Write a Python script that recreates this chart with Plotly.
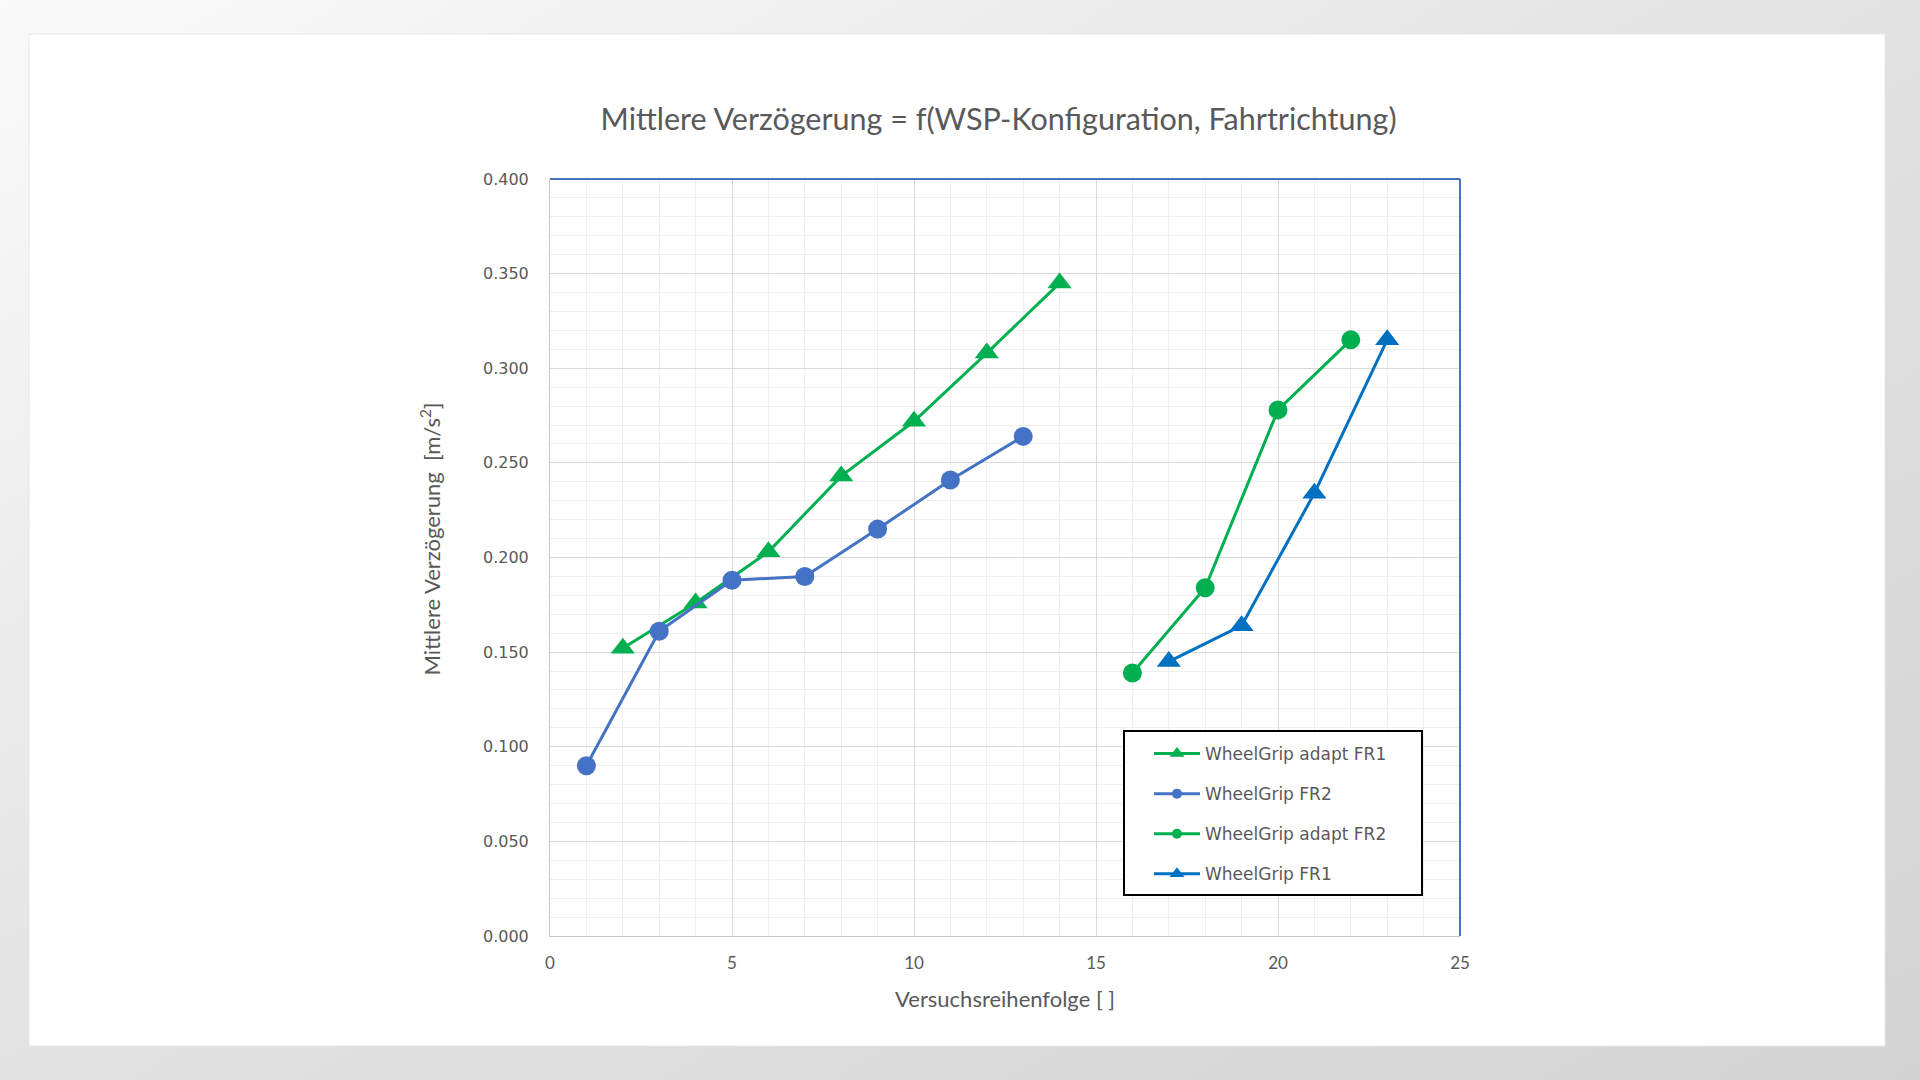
import base64
import plotly.graph_objects as go

# ---------------- data ----------------
x_adapt_fr1 = [2, 4, 6, 8, 10, 12, 14]
y_adapt_fr1 = [0.152, 0.176, 0.203, 0.243, 0.272, 0.308, 0.345]

x_fr2 = [1, 3, 5, 7, 9, 11, 13]
y_fr2 = [0.090, 0.161, 0.188, 0.190, 0.215, 0.241, 0.264]

x_adapt_fr2 = [16, 18, 20, 22]
y_adapt_fr2 = [0.139, 0.184, 0.278, 0.315]

x_fr1 = [17, 19, 21, 23]
y_fr1 = [0.145, 0.164, 0.234, 0.315]

series_names = ["WheelGrip adapt FR1", "WheelGrip FR2", "WheelGrip adapt FR2", "WheelGrip FR1"]
y_tick_vals = [0.0, 0.05, 0.10, 0.15, 0.20, 0.25, 0.30, 0.35, 0.40]
y_tick_text = ["0.000", "0.050", "0.100", "0.150", "0.200", "0.250", "0.300", "0.350", "0.400"]
x_tick_vals = [0, 5, 10, 15, 20, 25]

title_text = "Mittlere Verzögerung = f(WSP-Konfiguration, Fahrtrichtung)"
x_title = "Versuchsreihenfolge [ ]"
y_title = "Mittlere Verzögerung  [m/s<sup>2</sup>]"

# ---------------- styles ----------------
GREEN = "#00B050"
BLUE2 = "#4472C4"
BLUE1 = "#0070C0"
TXT = "#595959"

W, H = 1920, 1080
L, R, T, B = 550, 460, 179, 144
pw, ph = W - L - R, H - T - B

svg = f'''<svg xmlns="http://www.w3.org/2000/svg" width="{W}" height="{H}" viewBox="0 0 {W} {H}">
<defs><linearGradient id="g" x1="0" y1="0" x2="1" y2="1">
<stop offset="0" stop-color="#fafafa"/><stop offset="0.5" stop-color="#e2e2e2"/><stop offset="1" stop-color="#d3d3d3"/>
</linearGradient></defs>
<rect x="0" y="0" width="{W}" height="{H}" fill="url(#g)"/>
<rect x="29" y="34" width="1856" height="1012" fill="#ffffff" stroke="#e8e8e8" stroke-width="1"/>
</svg>'''
src = "data:image/svg+xml;base64," + base64.b64encode(svg.encode()).decode()

fig = go.Figure()

def add(xs, ys, name, color, symbol, size):
    fig.add_trace(go.Scatter(
        x=xs, y=ys, mode="lines+markers", name=name, showlegend=False,
        line=dict(color=color, width=3),
        marker=dict(color=color, symbol=symbol, size=size),
    ))

add(x_adapt_fr1, y_adapt_fr1, series_names[0], GREEN, "triangle-up", 21)
add(x_fr2, y_fr2, series_names[1], BLUE2, "circle", 19)
add(x_adapt_fr2, y_adapt_fr2, series_names[2], GREEN, "circle", 19)
add(x_fr1, y_fr1, series_names[3], BLUE1, "triangle-up", 21)

# legend-only entries with small markers
legend_styles = [(GREEN, "triangle-up", 13), (BLUE2, "circle", 10), (GREEN, "circle", 10), (BLUE1, "triangle-up", 13)]
for i, (nm, (c, s, sz)) in enumerate(zip(series_names, legend_styles)):
    fig.add_trace(go.Scatter(
        x=[None], y=[None], mode="lines+markers", name=nm, legendgroup=f"g{i}",
        line=dict(color=c, width=3), marker=dict(color=c, symbol=s, size=sz),
    ))

# legend box (pixels -> paper)
bx0, bx1, by0, by1 = 1124, 1422, 731, 895
def px(v):
    return (v - L) / pw
def py(v):
    return (H - B - v) / ph

fig.update_layout(
    width=W, height=H,
    margin=dict(l=L, r=R, t=T, b=B, autoexpand=False),
    paper_bgcolor="#ffffff",
    plot_bgcolor="#ffffff",
    images=[dict(source=src, xref="paper", yref="paper",
                 x=-L / pw, y=1 + T / ph, sizex=W / pw, sizey=H / ph,
                 xanchor="left", yanchor="top", sizing="stretch", layer="below")],
    title=dict(text=title_text, x=998.6 / W, xref="container", xanchor="center",
               y=1 - 119 / H, yref="container", yanchor="middle",
               font=dict(family="Lato", size=30.5, color=TXT)),
    xaxis=dict(
        range=[0, 25], tickvals=x_tick_vals, ticks="",
        showgrid=True, gridcolor="#d9d9d9", gridwidth=1,
        minor=dict(dtick=1, showgrid=True, gridcolor="#efefef", gridwidth=1),
        showline=True, linecolor="#c8c8c8", linewidth=1,
        zeroline=False,
        tickfont=dict(family="Lato", size=17, color=TXT),
        ticklabelstandoff=12,
        title=dict(text=x_title, font=dict(family="Lato", size=22, color=TXT), standoff=19),
    ),
    yaxis=dict(
        range=[0, 0.4], tickvals=y_tick_vals, ticktext=y_tick_text, ticks="",
        showgrid=True, gridcolor="#d9d9d9", gridwidth=1,
        minor=dict(dtick=0.01, showgrid=True, gridcolor="#efefef", gridwidth=1),
        showline=True, linecolor="#c8c8c8", linewidth=1,
        zeroline=False,
        tickfont=dict(family="DejaVu Sans", size=16, color=TXT),
        ticklabelstandoff=17,
    ),
    annotations=[dict(text=y_title, xref="paper", yref="paper",
                      x=px(429.5), y=py(539), xanchor="center", yanchor="middle",
                      textangle=-90, showarrow=False,
                      font=dict(family="Lato", size=22, color=TXT))],
    legend=dict(
        x=px(1149), y=py(736), xanchor="left", yanchor="top",
        bgcolor="rgba(0,0,0,0)", borderwidth=0,
        font=dict(family="DejaVu Sans", size=17, color=TXT),
        tracegroupgap=15, itemwidth=46,
    ),
    shapes=[
        dict(type="rect", xref="paper", yref="paper", x0=px(bx0), x1=px(bx1), y0=py(by1), y1=py(by0),
             fillcolor="#ffffff", line=dict(color="#000000", width=2), layer="above"),
        dict(type="line", xref="paper", yref="paper", x0=0, x1=1, y0=1, y1=1,
             line=dict(color=BLUE2, width=2)),
        dict(type="line", xref="paper", yref="paper", x0=1, x1=1, y0=0, y1=1,
             line=dict(color=BLUE2, width=2)),
    ],
)

fig.write_html("out.html")
